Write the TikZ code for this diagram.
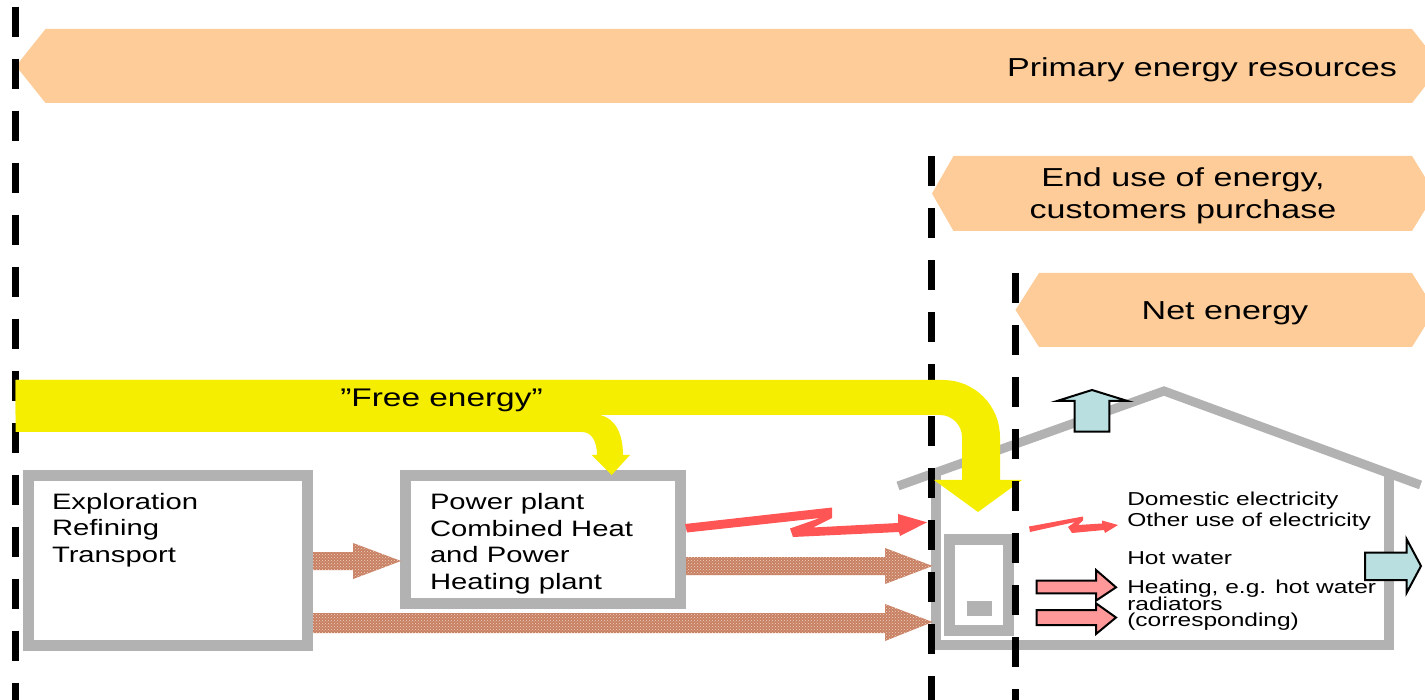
\documentclass[tikz,border=0pt]{standalone}
\usepackage{fontspec}
\setmainfont{Liberation Sans}[FakeStretch=1.31]
\usetikzlibrary{patterns}
\definecolor{banner}{RGB}{254,204,153}
\definecolor{boxgray}{RGB}{178,178,178}
\definecolor{freeyellow}{RGB}{245,238,0}
\definecolor{brownfill}{RGB}{200,128,98}
\definecolor{browndot}{RGB}{240,212,198}
\definecolor{redbolt}{RGB}{255,85,85}
\definecolor{pinkarrow}{RGB}{255,153,153}
\definecolor{bluearrow}{RGB}{185,223,225}
\newcommand{\bannerfnt}{\fontsize{26}{31}\selectfont}
\newcommand{\freefnt}{\fontsize{25.5}{30}\selectfont}
\newcommand{\boxfnt}{\fontsize{22.3}{27}\selectfont}
\newcommand{\housefnt}{\fontsize{18.7}{17}\selectfont}
\tikzset{
  bannershape/.style={fill=banner, draw=none},
  sepline/.style={draw=black, line width=7pt, dash pattern=on 30pt off 22pt},
  graybox/.style={draw=boxgray, line width=11pt, fill=white, inner sep=0pt, outer sep=0pt},
  brownarrow/.style={fill=brownfill, postaction={pattern=crosshatch dots, pattern color=browndot}},
  boltshape/.style={fill=redbolt, draw=none},
  pinkblock/.style={fill=pinkarrow, draw=black, line width=2pt, line join=miter},
  blueblock/.style={fill=bluearrow, draw=black, line width=2pt, line join=miter},
  yellowband/.style={fill=freeyellow, draw=none},
  housewall/.style={draw=boxgray, line width=10pt},
  txt/.style={inner sep=0pt, outer sep=0pt, text=black},
}
\begin{document}
\begin{tikzpicture}[x=1pt, y=-1pt]
\useasboundingbox (0,0) rectangle (1425,700);
\clip (0,0) rectangle (1425,700);

% banners
\path[bannershape] (45.5,29) -- (1412,29) -- (1441,66) -- (1412,103) -- (45.5,103) -- (16,66) -- cycle;
\path[bannershape] (953.5,156) -- (1412,156) -- (1435,193.5) -- (1412,231) -- (953.5,231) -- (932,193.5) -- cycle;
\path[bannershape] (1039,273) -- (1412,273) -- (1435,310) -- (1412,347) -- (1039,347) -- (1015.5,310) -- cycle;

% house
\draw[housewall, line width=9pt] (898,486) -- (1164,391) -- (1420.5,485);
\draw[housewall] (936,475) -- (936,645) -- (1389,645) -- (1389,475);

% boxes
\node[graybox, minimum width=279pt, minimum height=169.5pt] (explore) at (168,560.75) {};
\node[graybox, minimum width=274.5pt, minimum height=127.5pt] (plant) at (542.75,539.75) {};
\node[graybox, minimum width=59pt, minimum height=91pt] (boiler) at (978.5,584.5) {};
\fill[boxgray] (967,601) rectangle (992,616);

% brown arrows
\path[brownarrow] (313,552) -- (353,552) -- (353,543) -- (401,561) -- (353,579) -- (353,570) -- (313,570) -- cycle;
\path[brownarrow] (686,557) -- (885,557) -- (885,548) -- (932.6,566) -- (885,584) -- (885,575) -- (686,575) -- cycle;
\path[brownarrow] (313,613) -- (885,613) -- (885,604) -- (932.6,622) -- (885,641) -- (885,633) -- (313,633) -- cycle;

% lightning (electricity)
\path[boltshape] (685,524) -- (832,507.5) -- (832,518) -- (813,527.5) -- (898,523) -- (898,514) -- (927,522.3) -- (900,536) -- (899,532) -- (793,537) -- (790,528.5) -- (820,518) -- (687,532.5) -- cycle;
\path[boltshape] (1029,526.5) -- (1083,516.5) -- (1083,520.5) -- (1078,525) -- (1102,523.5) -- (1102,520.5) -- (1118,525) -- (1105,533) -- (1104,530) -- (1072,533) -- (1068,527) -- (1075,522) -- (1030,532) -- cycle;

% pink heating arrows
\path[pinkblock] (1036.7,580.7) -- (1096,580.7) -- (1096,570) -- (1116,587.3) -- (1096,600.7) -- (1096,593.3) -- (1036.7,593.3) -- cycle;
\path[pinkblock] (1036.7,610) -- (1096,610) -- (1096,603.3) -- (1116,617.5) -- (1096,634) -- (1096,625) -- (1036.7,625) -- cycle;

% blue loss arrows
\path[blueblock] (1074.6,431.7) -- (1074.6,401) -- (1057,401) -- (1092,390) -- (1127.5,401) -- (1109.4,401) -- (1109.4,431.7) -- cycle;
\path[blueblock] (1365,552.7) -- (1406.7,552.7) -- (1406.7,539.3) -- (1421,566) -- (1406.7,592.7) -- (1406.7,580) -- (1365,580) -- cycle;

% separator lines
\coordinate (s1a) at (15.5,6.7);
\coordinate (s1b) at (15.5,700);
\coordinate (s2a) at (931,156);
\coordinate (s2b) at (931,700);
\coordinate (s3a) at (1015,273);
\coordinate (s3b) at (1015,700);
\draw[sepline] (s1a) -- (s1b);
\draw[sepline] (s2a) -- (s2b);

% free energy
\path[yellowband] (15.6,380) -- (943,380) .. controls (974.5,380) and (1000,405.5) .. (1000,437) -- (1000,480) -- (1022,480) -- (978,512) -- (934,480) -- (962,480) -- (962,437) .. controls (962,425) and (952,415) .. (940,415) -- (15.6,415) -- cycle;
\path[yellowband] (15.6,380) -- (600,380) -- (600,415) .. controls (614,418) and (623,432) .. (623,455) -- (630,455) -- (611.7,475) -- (591.7,455) -- (597,455) .. controls (597,442) and (592,432) .. (582,432) -- (15.6,432) -- cycle;

\draw[sepline] (s3a) -- (s3b);

% texts
\node[txt, anchor=base east, font=\bannerfnt] (tprim) at (1397,76.7) {Primary energy resources};
\node[txt, anchor=base, font=\bannerfnt] (tend1) at (1183,186.7) {End use of energy,};
\node[txt, anchor=base, font=\bannerfnt] (tend2) at (1183,218.3) {customers purchase};
\node[txt, anchor=base, font=\bannerfnt] (tnet) at (1225,319.3) {Net energy};
\node[txt, anchor=base, font=\freefnt] (tfree) at (441.5,406.7) {”Free energy”};

\node[txt, anchor=base west, font=\boxfnt] (te1) at (52,509.3) {Exploration};
\node[txt, anchor=base west, font=\boxfnt] (te2) at (52,535.7) {Refining};
\node[txt, anchor=base west, font=\boxfnt] (te3) at (52,562) {Transport};

\node[txt, anchor=base west, font=\boxfnt] (tp1) at (430,509.3) {Power plant};
\node[txt, anchor=base west, font=\boxfnt] (tp2) at (430,536) {Combined Heat};
\node[txt, anchor=base west, font=\boxfnt] (tp3) at (430,562.7) {and Power};
\node[txt, anchor=base west, font=\boxfnt] (tp4) at (430,589.3) {Heating plant};

\node[txt, anchor=base west, font=\housefnt] (th1) at (1127.3,505) {Domestic electricity};
\node[txt, anchor=base west, font=\housefnt] (th2) at (1127.3,526.7) {Other use of electricity};
\node[txt, anchor=base west, font=\housefnt] (th3) at (1127.3,564) {Hot water};
\node[txt, anchor=base west, font=\housefnt] (th4) at (1127.3,593.3) {Heating, e.g. hot water};
\node[txt, anchor=base west, font=\housefnt] (th5) at (1127.3,610) {radiators};
\node[txt, anchor=base west, font=\housefnt] (th6) at (1127.3,626) {(corresponding)};
\end{tikzpicture}
\end{document}
